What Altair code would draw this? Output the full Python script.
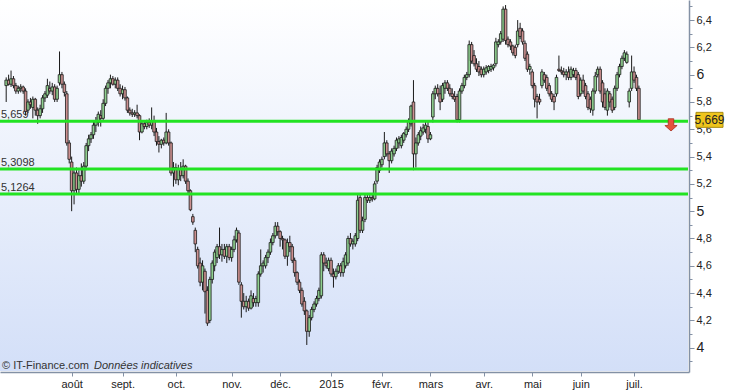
import json
import altair as alt
import pandas as pd

# ---------------- data ----------------
month_labels = ['août', 'sept.', 'oct.', 'nov.', 'déc.', '2015', 'févr.', 'mars', 'avr.', 'mai', 'juin', 'juil.']
holidays = ['2014-12-25', '2014-12-26', '2015-01-01', '2015-04-03', '2015-04-06', '2015-05-01']
level_values = [5.659, 5.3098, 5.1264]
level_labels = ['5,659', '5,3098', '5,1264']
last_label = '5,669'
footer_left = '© IT-Finance.com'
footer_right = 'Données indicatives'

open_ = [
    5.92, 5.96, 5.93, 5.97, 5.92, 5.88, 5.90, 5.91, 5.88, 5.74,
    5.80, 5.76, 5.82, 5.74, 5.70, 5.75, 5.83, 5.85, 5.90, 5.88,
    5.91, 5.82, 5.94, 6.00, 5.93, 5.86, 5.50, 5.36, 5.15, 5.28,
    5.16, 5.26, 5.22, 5.33, 5.48, 5.53, 5.56, 5.63, 5.65, 5.70,
    5.68, 5.79, 5.90, 5.94, 5.97, 5.93, 5.96, 5.90, 5.86, 5.89,
    5.83, 5.74, 5.72, 5.71, 5.72, 5.70, 5.58, 5.64, 5.62, 5.65,
    5.63, 5.66, 5.58, 5.51, 5.49, 5.52, 5.50, 5.58, 5.50, 5.28,
    5.32, 5.23, 5.31, 5.26, 5.33, 5.22, 5.15, 4.96, 4.86, 4.72,
    4.62, 4.48, 4.56, 4.42, 4.20, 4.50, 4.60, 4.66, 4.74, 4.68,
    4.72, 4.67, 4.74, 4.66, 4.72, 4.79, 4.84, 4.46, 4.34, 4.30,
    4.34, 4.29, 4.36, 4.33, 4.33, 4.54, 4.60, 4.60, 4.66, 4.70,
    4.77, 4.82, 4.89, 4.85, 4.80, 4.79, 4.67, 4.77, 4.74, 4.64,
    4.55, 4.48, 4.42, 4.34, 4.27, 4.12, 4.22, 4.28, 4.32, 4.36,
    4.38, 4.68, 4.62, 4.58, 4.64, 4.54, 4.52, 4.56, 4.60, 4.55,
    4.60, 4.62, 4.80, 4.76, 4.76, 4.80, 5.10, 4.86, 4.94, 5.10,
    5.08, 5.10, 5.09, 5.22, 5.30, 5.34, 5.40, 5.50, 5.42, 5.37,
    5.42, 5.46, 5.50, 5.48, 5.52, 5.56, 5.60, 5.64, 5.80, 5.42,
    5.50, 5.55, 5.58, 5.60, 5.62, 5.53, 5.69, 5.86, 5.90, 5.86,
    5.82, 5.90, 5.94, 5.90, 5.86, 5.84, 5.84, 5.67, 5.88, 5.92,
    5.98, 6.00, 6.22, 6.14, 6.08, 6.06, 6.04, 6.00, 6.02, 6.03,
    6.04, 6.05, 6.08, 6.22, 6.24, 6.26, 6.48, 6.26, 6.24, 6.21,
    6.20, 6.22, 6.34, 6.32, 6.23, 6.15, 6.04, 6.02, 5.92, 5.84,
    5.82, 5.92, 6.00, 5.98, 5.92, 5.86, 5.84, 5.86, 6.04, 6.03,
    6.02, 6.00, 6.02, 5.98, 6.00, 6.03, 6.00, 5.86, 5.96, 5.92,
    5.86, 5.82, 5.74, 5.88, 6.00, 6.04, 5.94, 5.86, 5.74, 5.86,
    5.82, 5.76, 5.90, 6.00, 6.06, 6.12, 6.09, 5.80, 5.90, 6.02,
    5.98, 5.90,
]
high = [
    5.98, 6.00, 6.03, 5.99, 5.94, 5.92, 5.93, 5.92, 5.90, 5.82,
    5.83, 5.84, 5.83, 5.76, 5.78, 5.85, 5.88, 5.97, 5.95, 5.94,
    5.93, 5.92, 6.17, 6.02, 5.95, 5.88, 5.52, 5.40, 5.30, 5.32,
    5.30, 5.35, 5.36, 5.50, 5.56, 5.58, 5.66, 5.69, 5.73, 5.74,
    5.82, 5.92, 5.96, 6.00, 5.99, 5.98, 5.98, 5.93, 5.92, 5.91,
    5.84, 5.76, 5.75, 5.74, 5.78, 5.71, 5.66, 5.66, 5.67, 5.68,
    5.76, 5.70, 5.61, 5.55, 5.53, 5.54, 5.72, 5.60, 5.51, 5.36,
    5.35, 5.34, 5.36, 5.38, 5.34, 5.24, 5.16, 4.98, 4.88, 4.74,
    4.66, 4.64, 4.58, 4.45, 4.52, 4.64, 4.72, 4.76, 4.88, 4.76,
    4.76, 4.76, 4.76, 4.74, 4.82, 4.88, 4.86, 4.48, 4.40, 4.38,
    4.36, 4.42, 4.40, 4.38, 4.56, 4.72, 4.64, 4.68, 4.72, 4.80,
    4.84, 4.92, 4.92, 4.86, 4.82, 4.80, 4.80, 4.82, 4.76, 4.66,
    4.56, 4.50, 4.44, 4.37, 4.28, 4.24, 4.30, 4.34, 4.38, 4.44,
    4.70, 4.70, 4.66, 4.66, 4.66, 4.58, 4.58, 4.62, 4.62, 4.66,
    4.70, 4.82, 4.84, 4.80, 4.84, 5.12, 5.12, 4.96, 5.12, 5.13,
    5.12, 5.12, 5.22, 5.34, 5.38, 5.40, 5.58, 5.52, 5.44, 5.46,
    5.48, 5.54, 5.55, 5.56, 5.58, 5.62, 5.68, 5.78, 5.96, 5.54,
    5.58, 5.62, 5.64, 5.66, 5.66, 5.58, 5.88, 5.92, 5.93, 5.92,
    5.94, 5.96, 5.96, 5.93, 5.90, 5.88, 5.86, 5.90, 5.94, 6.00,
    6.02, 6.25, 6.24, 6.18, 6.12, 6.10, 6.06, 6.06, 6.07, 6.07,
    6.08, 6.08, 6.27, 6.26, 6.32, 6.50, 6.51, 6.28, 6.26, 6.22,
    6.22, 6.40, 6.38, 6.34, 6.25, 6.17, 6.08, 6.04, 5.94, 5.86,
    5.86, 6.04, 6.02, 6.00, 5.94, 5.88, 5.86, 6.00, 6.14, 6.06,
    6.05, 6.04, 6.06, 6.06, 6.05, 6.05, 6.02, 5.98, 6.00, 5.94,
    5.88, 5.84, 5.90, 6.02, 6.06, 6.06, 5.96, 5.90, 5.90, 5.88,
    5.84, 5.92, 6.02, 6.08, 6.14, 6.18, 6.17, 5.90, 6.14, 6.06,
    6.00, 5.92,
]
low = [
    5.80, 5.92, 5.91, 5.90, 5.86, 5.86, 5.87, 5.86, 5.70, 5.72,
    5.75, 5.68, 5.70, 5.64, 5.68, 5.72, 5.80, 5.83, 5.86, 5.85,
    5.80, 5.80, 5.92, 5.90, 5.84, 5.48, 5.35, 5.00, 5.05, 5.12,
    5.13, 5.18, 5.20, 5.30, 5.44, 5.50, 5.53, 5.58, 5.62, 5.62,
    5.66, 5.77, 5.86, 5.90, 5.92, 5.90, 5.88, 5.84, 5.82, 5.81,
    5.72, 5.70, 5.69, 5.69, 5.68, 5.52, 5.57, 5.60, 5.60, 5.61,
    5.60, 5.55, 5.48, 5.43, 5.46, 5.48, 5.49, 5.48, 5.26, 5.18,
    5.20, 5.19, 5.22, 5.24, 5.20, 5.13, 5.00, 4.90, 4.70, 4.58,
    4.45, 4.42, 4.25, 4.16, 4.18, 4.47, 4.56, 4.62, 4.65, 4.63,
    4.65, 4.62, 4.64, 4.63, 4.70, 4.77, 4.46, 4.22, 4.28, 4.26,
    4.27, 4.28, 4.30, 4.30, 4.30, 4.52, 4.55, 4.58, 4.62, 4.68,
    4.75, 4.80, 4.82, 4.74, 4.72, 4.65, 4.60, 4.70, 4.62, 4.52,
    4.46, 4.40, 4.30, 4.24, 4.02, 4.08, 4.20, 4.26, 4.30, 4.34,
    4.36, 4.56, 4.58, 4.56, 4.52, 4.44, 4.50, 4.54, 4.52, 4.52,
    4.58, 4.60, 4.74, 4.72, 4.74, 4.78, 4.84, 4.84, 4.92, 5.06,
    5.06, 5.07, 5.08, 5.20, 5.28, 5.32, 5.38, 5.40, 5.28, 5.35,
    5.40, 5.44, 5.46, 5.46, 5.50, 5.54, 5.58, 5.62, 5.30, 5.32,
    5.48, 5.52, 5.56, 5.57, 5.50, 5.52, 5.65, 5.82, 5.84, 5.74,
    5.80, 5.86, 5.88, 5.84, 5.82, 5.80, 5.65, 5.65, 5.86, 5.90,
    5.96, 5.98, 6.08, 6.06, 6.02, 5.99, 5.98, 5.98, 6.00, 6.01,
    6.02, 6.03, 6.06, 6.20, 6.22, 6.24, 6.22, 6.20, 6.18, 6.14,
    6.12, 6.20, 6.26, 6.22, 6.10, 6.02, 6.00, 5.90, 5.76, 5.68,
    5.78, 5.90, 5.94, 5.88, 5.84, 5.80, 5.74, 5.84, 6.02, 6.00,
    5.98, 5.96, 5.96, 5.96, 5.98, 5.96, 5.82, 5.84, 5.86, 5.82,
    5.74, 5.72, 5.70, 5.86, 5.98, 5.86, 5.76, 5.74, 5.70, 5.76,
    5.72, 5.74, 5.88, 5.98, 6.04, 6.10, 6.08, 5.76, 5.88, 5.94,
    5.88, 5.66,
]
close = [
    5.96, 5.93, 5.97, 5.92, 5.88, 5.90, 5.91, 5.88, 5.73, 5.80,
    5.78, 5.82, 5.74, 5.70, 5.75, 5.83, 5.86, 5.92, 5.88, 5.91,
    5.82, 5.90, 6.00, 5.93, 5.87, 5.50, 5.38, 5.15, 5.28, 5.16,
    5.26, 5.22, 5.33, 5.48, 5.53, 5.56, 5.63, 5.66, 5.71, 5.68,
    5.79, 5.90, 5.94, 5.97, 5.93, 5.96, 5.90, 5.86, 5.89, 5.83,
    5.74, 5.72, 5.71, 5.72, 5.70, 5.58, 5.64, 5.62, 5.65, 5.63,
    5.66, 5.58, 5.51, 5.49, 5.52, 5.50, 5.58, 5.50, 5.28, 5.32,
    5.23, 5.31, 5.26, 5.33, 5.22, 5.15, 5.01, 4.92, 4.76, 4.60,
    4.48, 4.60, 4.41, 4.18, 4.50, 4.62, 4.70, 4.74, 4.68, 4.72,
    4.67, 4.74, 4.66, 4.72, 4.79, 4.86, 4.48, 4.34, 4.30, 4.34,
    4.29, 4.38, 4.33, 4.36, 4.54, 4.60, 4.62, 4.66, 4.70, 4.77,
    4.82, 4.89, 4.85, 4.80, 4.79, 4.67, 4.77, 4.74, 4.64, 4.55,
    4.48, 4.42, 4.32, 4.27, 4.12, 4.22, 4.28, 4.32, 4.36, 4.42,
    4.68, 4.62, 4.60, 4.64, 4.54, 4.52, 4.56, 4.60, 4.55, 4.63,
    4.68, 4.80, 4.76, 4.78, 4.82, 5.08, 4.86, 4.93, 5.10, 5.08,
    5.10, 5.09, 5.20, 5.32, 5.36, 5.38, 5.50, 5.42, 5.37, 5.44,
    5.46, 5.52, 5.53, 5.54, 5.57, 5.60, 5.66, 5.77, 5.42, 5.50,
    5.56, 5.59, 5.61, 5.63, 5.53, 5.56, 5.86, 5.90, 5.86, 5.80,
    5.92, 5.94, 5.90, 5.86, 5.84, 5.82, 5.67, 5.88, 5.92, 5.98,
    6.00, 6.22, 6.10, 6.08, 6.04, 6.02, 6.00, 6.04, 6.05, 6.06,
    6.06, 6.07, 6.24, 6.24, 6.30, 6.48, 6.25, 6.22, 6.21, 6.16,
    6.14, 6.32, 6.28, 6.24, 6.12, 6.04, 6.06, 5.92, 5.82, 5.80,
    5.80, 6.02, 5.96, 5.90, 5.86, 5.82, 5.80, 5.98, 6.03, 6.02,
    6.00, 6.02, 5.98, 6.04, 6.03, 5.98, 5.84, 5.96, 5.88, 5.84,
    5.76, 5.75, 5.88, 5.99, 6.04, 5.88, 5.80, 5.76, 5.88, 5.80,
    5.74, 5.90, 6.00, 6.06, 6.12, 6.16, 6.15, 5.88, 6.02, 5.96,
    5.90, 5.669,
]

# ---------------- structure ----------------
n = len(close)
assert len(open_) == n and len(high) == n and len(low) == n, (len(open_), len(high), len(low), n)

dates = pd.bdate_range('2014-06-25', '2015-07-03')
dates = dates[~dates.isin(pd.to_datetime(holidays))]
starts = [k for k in range(1, min(n, len(dates))) if dates[k].month != dates[k - 1].month]
starts = starts[1:]  # first month start (juillet 2014) carries no label

df = pd.DataFrame({'i': list(range(n)), 'open': open_, 'high': high, 'low': low, 'close': close})
levels_df = pd.DataFrame({'v': level_values, 't': level_labels})
last_df = pd.DataFrame({'p': [close[-1]], 't': [last_label]})
footer_df = pd.DataFrame({'a': [footer_left], 'b': [footer_right]})

FONT = 'Liberation Sans'
AX = '#8391a5'
W, H = 689, 372

x_label_expr = '{}[indexof({}, datum.value)]'.format(
    json.dumps(month_labels, ensure_ascii=False), json.dumps(starts))

x_axis = alt.Axis(
    values=starts, labelExpr=x_label_expr, title=None, grid=False,
    tickSize=4, labelPadding=2, labelFont=FONT, labelColor='#222',
    labelFontSize={'condition': {'test': "datum.label == '2015'", 'value': 14}, 'value': 11},
    labelFontWeight={'condition': {'test': "datum.label == '2015'", 'value': 'bold'}, 'value': 'normal'},
    labelOverlap=False, labelFlush=False,
    domainColor=AX, tickColor=AX, domainWidth=1.5,
)
y_ticks = [round(3.9 + 0.1 * k, 1) for k in range(27)]
y_axis = alt.Axis(
    orient='right', values=y_ticks, title=None, grid=False,
    labelExpr="(round(datum.value*10) % 2 != 0) ? '' : (round(datum.value*10) % 10 == 0 ? format(datum.value, '.0f') : replace(format(datum.value, '.1f'), '.', ','))",
    labelFont=FONT, labelColor='#222', labelPadding=2,
    labelFontSize={'condition': {'test': 'round(datum.value*10) % 10 == 0', 'value': 14}, 'value': 11},
    tickSize={'condition': {'test': 'round(datum.value*10) % 2 != 0', 'value': 3}, 'value': 5},
    labelOverlap=False, labelFlush=False,
    domainColor=AX, tickColor=AX, domainWidth=1.5,
)
x_scale = alt.Scale(domain=[-0.49, 279.6], nice=False, zero=False)
y_scale = alt.Scale(domain=[3.822, 6.547], nice=False, zero=False)


def X(field):
    return alt.X(field, type='quantitative', scale=x_scale, axis=x_axis)


def Y(field):
    return alt.Y(field, type='quantitative', scale=y_scale, axis=y_axis)


bg = alt.Chart(footer_df).mark_rect(
    color=alt.LinearGradient(
        gradient='linear',
        stops=[alt.GradientStop(color='#ffffff', offset=0),
               alt.GradientStop(color='#d3dff8', offset=1)],
        x1=0, x2=0, y1=0, y2=1)
).encode(x=alt.value(0), x2=alt.value(W - 1), y=alt.value(0), y2=alt.value(H - 1))

foot1 = alt.Chart(footer_df).mark_text(
    align='left', baseline='middle', font=FONT, fontSize=11, color='#333'
).encode(x=alt.value(2), y=alt.value(366), text='a:N')
foot2 = alt.Chart(footer_df).mark_text(
    align='left', baseline='middle', font=FONT, fontSize=11, color='#333', fontStyle='italic'
).encode(x=alt.value(94), y=alt.value(366), text='b:N')

lvl_text = alt.Chart(levels_df).mark_text(
    align='left', baseline='bottom', dy=-1, font=FONT, fontSize=11, color='#333'
).encode(x=alt.value(1), y=Y('v'), text='t:N')

wicks = alt.Chart(df).mark_rule(color='#1a1a1a', strokeWidth=1).encode(
    x=X('i'), y=Y('low'), y2='high:Q')

bodies = alt.Chart(df).mark_bar(size=2.6, stroke='#1a1a1a', strokeWidth=0.8).encode(
    x=X('i'), y=Y('open'), y2='close:Q',
    color=alt.condition('datum.close >= datum.open', alt.value('#8fd08f'), alt.value('#cc9090')))

lvl_rules = alt.Chart(levels_df).mark_rule(color='#22e322', strokeWidth=3).encode(
    y=Y('v'), x=alt.value(0), x2=alt.value(W - 1))

box = alt.Chart(last_df).mark_rect(
    color='#eec51c', stroke='#a88c10', strokeWidth=1, yOffset=-7.5, y2Offset=7.5
).encode(x=alt.value(696), x2=alt.value(723), y=Y('p'), y2='p:Q')
box_text = alt.Chart(last_df).mark_text(
    align='center', baseline='middle', font=FONT, fontSize=12, color='#222'
).encode(x=alt.value(709.5), y=Y('p'), text='t:N')

arrow_shape = 'M-0.45,-1 L0.45,-1 L0.45,0.1 L1,0.1 L0,1 L-1,0.1 L-0.45,0.1 Z'
arrow = alt.Chart(last_df).mark_point(
    shape=arrow_shape, filled=True, size=150, color='#e5533c',
    stroke='#a83020', strokeWidth=0.8, opacity=1, yOffset=5
).encode(x=alt.value(671), y=Y('p'))

chart = alt.layer(
    bg, foot1, foot2, lvl_text, wicks, bodies, lvl_rules, box, box_text, arrow
).properties(
    width=W, height=H,
    padding={'left': 0, 'top': 0, 'right': 745 - W, 'bottom': 391 - H},
    autosize=alt.AutoSizeParams(type='none'),
    background='white',
).configure_view(stroke='transparent')

chart.save('out.html', embed_options={'renderer': 'svg', 'actions': False})
